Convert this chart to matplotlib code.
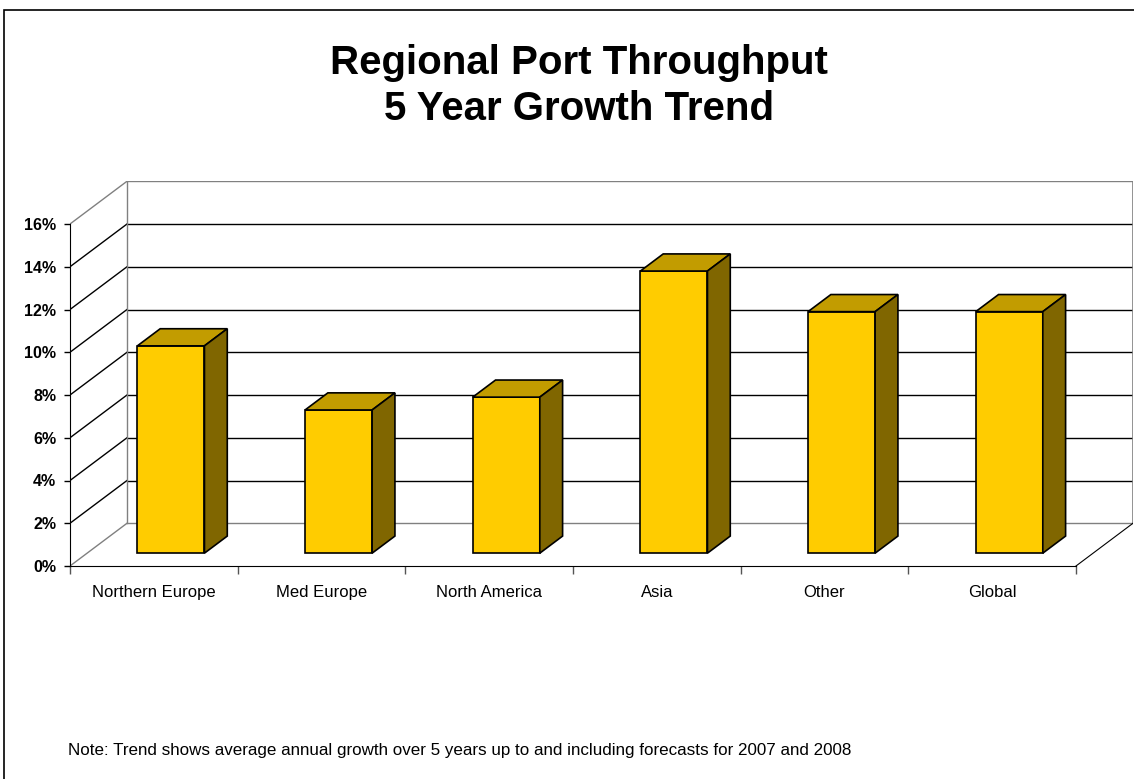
import matplotlib.pyplot as plt
from matplotlib.patches import Polygon, Rectangle

plt.rcParams['font.family'] = ['Liberation Sans', 'DejaVu Sans']

# Average annual growth (%) by region
regions = ["Northern Europe", "Med Europe", "North America", "Asia", "Other", "Global"]
growth = [9.7, 6.7, 7.3, 13.2, 11.3, 11.3]
y_ticks = [0, 2, 4, 6, 8, 10, 12, 14, 16]
y_tick_labels = ["%d%%" % t for t in y_ticks]

title = "Regional Port Throughput\n5 Year Growth Trend"
note = "Note: Trend shows average annual growth over 5 years up to and including forecasts for 2007 and 2008"

# fake 3d: depth offset of the back wall in data units
DX = 0.34
DY = 2.0
bar_w = 0.4
front_d = 0.3   # bar front face sits 30% into the depth
depth = 0.4

front_col = "#FFCC00"
top_col = "#C29C00"
side_col = "#806600"
wall_col = "#808080"

fig = plt.figure(figsize=(11.34, 7.79), dpi=100)
W, H = 1134, 779
ax = fig.add_axes([70 / W, 213 / H, 1063 / W, 384.75 / H])
ax.set_xlim(0, len(regions) + DX)
ax.set_ylim(0, max(y_ticks) + DY)

n = len(regions)
top = max(y_ticks)

# back wall and side wall gridlines
for t in y_ticks:
    c = wall_col if t in (0, top) else "black"
    ax.plot([DX, n + DX], [t + DY, t + DY], color=c, lw=1, zorder=1)
    ax.plot([0, DX], [t, t + DY], color=c, lw=1, zorder=1)
ax.plot([DX, DX], [DY, top + DY], color=wall_col, lw=1, zorder=1)
ax.plot([n + DX, n + DX], [DY, top + DY], color=wall_col, lw=1.2, zorder=1)
# floor right edge
ax.plot([n, n + DX], [0, DY], color="black", lw=0.8, zorder=1)

# bars: front face through ax.bar, top and side as polygons
xs = [i + 0.5 + front_d * DX for i in range(n)]
ax.bar(xs, growth, width=bar_w, bottom=front_d * DY, color=front_col,
       edgecolor="black", linewidth=1.2, zorder=3)
ddx, ddy = depth * DX, depth * DY
for x, v in zip(xs, growth):
    x0, x1 = x - bar_w / 2, x + bar_w / 2
    y0, y1 = front_d * DY, front_d * DY + v
    ax.add_patch(Polygon([(x0, y1), (x1, y1), (x1 + ddx, y1 + ddy), (x0 + ddx, y1 + ddy)],
                         closed=True, facecolor=top_col, edgecolor="black", lw=1.2, zorder=3))
    ax.add_patch(Polygon([(x1, y0), (x1 + ddx, y0 + ddy), (x1 + ddx, y1 + ddy), (x1, y1)],
                         closed=True, facecolor=side_col, edgecolor="black", lw=1.2, zorder=3))

# axes
for s in ["top", "right"]:
    ax.spines[s].set_visible(False)
ax.spines["left"].set_bounds(0, top)
ax.spines["bottom"].set_bounds(0, n)
ax.spines["left"].set_color("black")
ax.spines["bottom"].set_color("black")
ax.spines["left"].set_zorder(2)
ax.spines["bottom"].set_zorder(2)

ax.set_yticks(y_ticks)
ax.set_yticklabels(y_tick_labels, fontsize=11.5, fontweight="bold")
ax.tick_params(axis="y", length=4, width=1, pad=6)

ax.set_xticks(range(n + 1))
ax.set_xticklabels([])
ax.set_xticks([i + 0.5 for i in range(n)], minor=True)
ax.set_xticklabels(regions, minor=True, fontsize=12)
ax.tick_params(axis="x", which="major", length=6, width=1, color="#555555")
ax.tick_params(axis="x", which="minor", length=0, pad=13.5)

fig.text(579 / W, 1 - 44 / H, title, ha="center", va="top", fontsize=29,
         fontweight="bold", linespacing=1.25)
fig.text(68 / W, 1 - 751 / H, note, ha="left", va="center", fontsize=12.25)

# outer frame
fig.patches.append(Rectangle((3.5 / W, -0.1), 1.2, 1.1 - 10 / H, transform=fig.transFigure,
                             fill=False, edgecolor="black", lw=1.2))

fig.savefig("out.png", dpi=100)
